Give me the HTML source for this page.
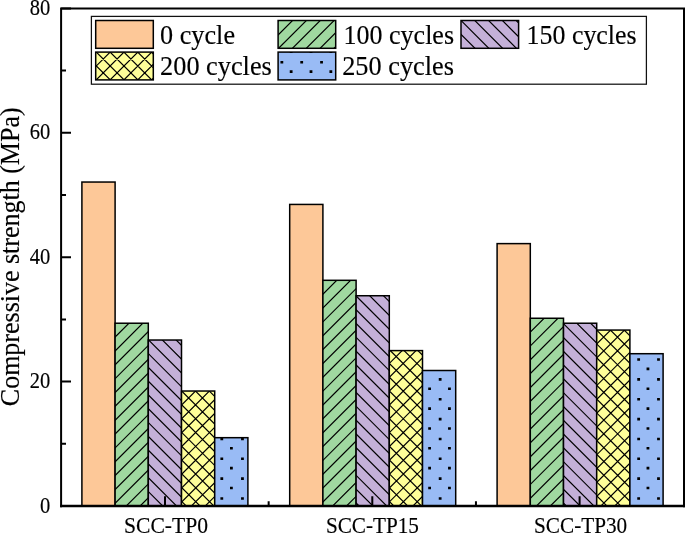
<!DOCTYPE html>
<html lang="en"><head><meta charset="utf-8"><title>Compressive strength chart</title>
<style>
html,body{margin:0;padding:0;background:#fff;}
body{width:685px;height:533px;overflow:hidden;}
svg{display:block;}
svg text{font-family:"Liberation Serif",serif;fill:#000;stroke:#000;stroke-width:0.15px;}
</style></head><body>
<svg width="685" height="533" viewBox="0 0 685 533">
<rect width="100%" height="100%" fill="#fff"/>
<rect x="81.90" y="182.04" width="33.20" height="323.96" fill="#FDC898"/>
<rect x="81.90" y="182.04" width="33.20" height="323.96" fill="none" stroke="#000" stroke-width="1.5"/>
<rect x="115.10" y="323.23" width="33.20" height="182.77" fill="#A0D8A0"/>
<clipPath id="c1"><rect x="115.10" y="323.23" width="33.20" height="182.77"/></clipPath>
<path clip-path="url(#c1)" stroke="#000" stroke-width="1.2" fill="none" d="M113.10 325.23L150.30 288.03M113.10 339.08L150.30 301.88M113.10 352.93L150.30 315.73M113.10 366.78L150.30 329.58M113.10 380.63L150.30 343.43M113.10 394.48L150.30 357.28M113.10 408.33L150.30 371.13M113.10 422.18L150.30 384.98M113.10 436.03L150.30 398.83M113.10 449.88L150.30 412.68M113.10 463.73L150.30 426.53M113.10 477.58L150.30 440.38M113.10 491.43L150.30 454.23M113.10 505.28L150.30 468.08M113.10 519.13L150.30 481.93M113.10 532.98L150.30 495.78M113.10 546.83L150.30 509.63"/>
<rect x="115.10" y="323.23" width="33.20" height="182.77" fill="none" stroke="#000" stroke-width="1.5"/>
<rect x="148.30" y="340.03" width="33.20" height="165.97" fill="#C4B0D8"/>
<clipPath id="c2"><rect x="148.30" y="340.03" width="33.20" height="165.97"/></clipPath>
<path clip-path="url(#c2)" stroke="#000" stroke-width="1.2" fill="none" d="M146.30 296.33L183.50 333.53M146.30 310.13L183.50 347.33M146.30 323.93L183.50 361.13M146.30 337.73L183.50 374.93M146.30 351.53L183.50 388.73M146.30 365.33L183.50 402.53M146.30 379.13L183.50 416.33M146.30 392.93L183.50 430.13M146.30 406.73L183.50 443.93M146.30 420.53L183.50 457.73M146.30 434.33L183.50 471.53M146.30 448.13L183.50 485.33M146.30 461.93L183.50 499.13M146.30 475.73L183.50 512.93M146.30 489.53L183.50 526.73M146.30 503.33L183.50 540.53M146.30 517.13L183.50 554.33"/>
<rect x="148.30" y="340.03" width="33.20" height="165.97" fill="none" stroke="#000" stroke-width="1.5"/>
<rect x="181.50" y="391.03" width="33.20" height="114.97" fill="#FFFF99"/>
<clipPath id="c3"><rect x="181.50" y="391.03" width="33.20" height="114.97"/></clipPath>
<path clip-path="url(#c3)" stroke="#000" stroke-width="1.2" fill="none" d="M179.50 379.38L216.70 342.18M179.50 393.23L216.70 356.03M179.50 407.08L216.70 369.88M179.50 420.93L216.70 383.73M179.50 434.78L216.70 397.58M179.50 448.63L216.70 411.43M179.50 462.48L216.70 425.28M179.50 476.33L216.70 439.13M179.50 490.18L216.70 452.98M179.50 504.03L216.70 466.83M179.50 517.88L216.70 480.68M179.50 531.73L216.70 494.53M179.50 545.58L216.70 508.38M179.50 347.43L216.70 384.63M179.50 361.23L216.70 398.43M179.50 375.03L216.70 412.23M179.50 388.83L216.70 426.03M179.50 402.63L216.70 439.83M179.50 416.43L216.70 453.63M179.50 430.23L216.70 467.43M179.50 444.03L216.70 481.23M179.50 457.83L216.70 495.03M179.50 471.63L216.70 508.83M179.50 485.43L216.70 522.63M179.50 499.23L216.70 536.43M179.50 513.03L216.70 550.23"/>
<rect x="181.50" y="391.03" width="33.20" height="114.97" fill="none" stroke="#000" stroke-width="1.5"/>
<rect x="214.70" y="437.68" width="33.20" height="68.32" fill="#99BBF5"/>
<clipPath id="c4"><rect x="214.70" y="437.68" width="33.20" height="68.32"/></clipPath>
<path clip-path="url(#c4)" fill="#000" stroke="none" d="M180.70 397.95h2.8v2.6h-2.8zM200.55 397.95h2.8v2.6h-2.8zM220.40 397.95h2.8v2.6h-2.8zM241.05 397.95h2.8v2.6h-2.8zM260.10 397.95h2.8v2.6h-2.8zM180.70 417.80h2.8v2.6h-2.8zM200.55 417.80h2.8v2.6h-2.8zM220.40 417.80h2.8v2.6h-2.8zM241.05 417.80h2.8v2.6h-2.8zM260.10 417.80h2.8v2.6h-2.8zM180.70 437.65h2.8v2.6h-2.8zM200.55 437.65h2.8v2.6h-2.8zM220.40 437.65h2.8v2.6h-2.8zM241.05 437.65h2.8v2.6h-2.8zM260.10 437.65h2.8v2.6h-2.8zM180.70 457.50h2.8v2.6h-2.8zM200.55 457.50h2.8v2.6h-2.8zM220.40 457.50h2.8v2.6h-2.8zM241.05 457.50h2.8v2.6h-2.8zM260.10 457.50h2.8v2.6h-2.8zM180.70 477.35h2.8v2.6h-2.8zM200.55 477.35h2.8v2.6h-2.8zM220.40 477.35h2.8v2.6h-2.8zM241.05 477.35h2.8v2.6h-2.8zM260.10 477.35h2.8v2.6h-2.8zM180.70 497.20h2.8v2.6h-2.8zM200.55 497.20h2.8v2.6h-2.8zM220.40 497.20h2.8v2.6h-2.8zM241.05 497.20h2.8v2.6h-2.8zM260.10 497.20h2.8v2.6h-2.8zM180.70 517.05h2.8v2.6h-2.8zM200.55 517.05h2.8v2.6h-2.8zM220.40 517.05h2.8v2.6h-2.8zM241.05 517.05h2.8v2.6h-2.8zM260.10 517.05h2.8v2.6h-2.8zM190.00 407.30h2.8v2.6h-2.8zM209.85 407.30h2.8v2.6h-2.8zM230.00 407.30h2.8v2.6h-2.8zM249.55 407.30h2.8v2.6h-2.8zM190.00 427.15h2.8v2.6h-2.8zM209.85 427.15h2.8v2.6h-2.8zM230.00 427.15h2.8v2.6h-2.8zM249.55 427.15h2.8v2.6h-2.8zM190.00 447.00h2.8v2.6h-2.8zM209.85 447.00h2.8v2.6h-2.8zM230.00 447.00h2.8v2.6h-2.8zM249.55 447.00h2.8v2.6h-2.8zM190.00 466.85h2.8v2.6h-2.8zM209.85 466.85h2.8v2.6h-2.8zM230.00 466.85h2.8v2.6h-2.8zM249.55 466.85h2.8v2.6h-2.8zM190.00 486.70h2.8v2.6h-2.8zM209.85 486.70h2.8v2.6h-2.8zM230.00 486.70h2.8v2.6h-2.8zM249.55 486.70h2.8v2.6h-2.8zM190.00 506.55h2.8v2.6h-2.8zM209.85 506.55h2.8v2.6h-2.8zM230.00 506.55h2.8v2.6h-2.8zM249.55 506.55h2.8v2.6h-2.8z"/>
<rect x="214.70" y="437.68" width="33.20" height="68.32" fill="none" stroke="#000" stroke-width="1.5"/>
<rect x="289.70" y="204.43" width="33.20" height="301.57" fill="#FDC898"/>
<rect x="289.70" y="204.43" width="33.20" height="301.57" fill="none" stroke="#000" stroke-width="1.5"/>
<rect x="322.90" y="280.31" width="33.20" height="225.69" fill="#A0D8A0"/>
<clipPath id="c5"><rect x="322.90" y="280.31" width="33.20" height="225.69"/></clipPath>
<path clip-path="url(#c5)" stroke="#000" stroke-width="1.2" fill="none" d="M320.90 282.31L358.10 245.11M320.90 296.16L358.10 258.96M320.90 310.01L358.10 272.81M320.90 323.86L358.10 286.66M320.90 337.71L358.10 300.51M320.90 351.56L358.10 314.36M320.90 365.41L358.10 328.21M320.90 379.26L358.10 342.06M320.90 393.11L358.10 355.91M320.90 406.96L358.10 369.76M320.90 420.81L358.10 383.61M320.90 434.66L358.10 397.46M320.90 448.51L358.10 411.31M320.90 462.36L358.10 425.16M320.90 476.21L358.10 439.01M320.90 490.06L358.10 452.86M320.90 503.91L358.10 466.71M320.90 517.76L358.10 480.56M320.90 531.61L358.10 494.41M320.90 545.46L358.10 508.26"/>
<rect x="322.90" y="280.31" width="33.20" height="225.69" fill="none" stroke="#000" stroke-width="1.5"/>
<rect x="356.10" y="295.74" width="33.20" height="210.26" fill="#C4B0D8"/>
<clipPath id="c6"><rect x="356.10" y="295.74" width="33.20" height="210.26"/></clipPath>
<path clip-path="url(#c6)" stroke="#000" stroke-width="1.2" fill="none" d="M354.10 252.54L391.30 289.74M354.10 266.34L391.30 303.54M354.10 280.14L391.30 317.34M354.10 293.94L391.30 331.14M354.10 307.74L391.30 344.94M354.10 321.54L391.30 358.74M354.10 335.34L391.30 372.54M354.10 349.14L391.30 386.34M354.10 362.94L391.30 400.14M354.10 376.74L391.30 413.94M354.10 390.54L391.30 427.74M354.10 404.34L391.30 441.54M354.10 418.14L391.30 455.34M354.10 431.94L391.30 469.14M354.10 445.74L391.30 482.94M354.10 459.54L391.30 496.74M354.10 473.34L391.30 510.54M354.10 487.14L391.30 524.34M354.10 500.94L391.30 538.14M354.10 514.74L391.30 551.94"/>
<rect x="356.10" y="295.74" width="33.20" height="210.26" fill="none" stroke="#000" stroke-width="1.5"/>
<rect x="389.30" y="350.60" width="33.20" height="155.40" fill="#FFFF99"/>
<clipPath id="c7"><rect x="389.30" y="350.60" width="33.20" height="155.40"/></clipPath>
<path clip-path="url(#c7)" stroke="#000" stroke-width="1.2" fill="none" d="M387.30 351.60L424.50 314.40M387.30 365.45L424.50 328.25M387.30 379.30L424.50 342.10M387.30 393.15L424.50 355.95M387.30 407.00L424.50 369.80M387.30 420.85L424.50 383.65M387.30 434.70L424.50 397.50M387.30 448.55L424.50 411.35M387.30 462.40L424.50 425.20M387.30 476.25L424.50 439.05M387.30 490.10L424.50 452.90M387.30 503.95L424.50 466.75M387.30 517.80L424.50 480.60M387.30 531.65L424.50 494.45M387.30 545.50L424.50 508.30M387.30 306.20L424.50 343.40M387.30 320.00L424.50 357.20M387.30 333.80L424.50 371.00M387.30 347.60L424.50 384.80M387.30 361.40L424.50 398.60M387.30 375.20L424.50 412.40M387.30 389.00L424.50 426.20M387.30 402.80L424.50 440.00M387.30 416.60L424.50 453.80M387.30 430.40L424.50 467.60M387.30 444.20L424.50 481.40M387.30 458.00L424.50 495.20M387.30 471.80L424.50 509.00M387.30 485.60L424.50 522.80M387.30 499.40L424.50 536.60M387.30 513.20L424.50 550.40"/>
<rect x="389.30" y="350.60" width="33.20" height="155.40" fill="none" stroke="#000" stroke-width="1.5"/>
<rect x="422.50" y="370.50" width="33.20" height="135.50" fill="#99BBF5"/>
<clipPath id="c8"><rect x="422.50" y="370.50" width="33.20" height="135.50"/></clipPath>
<path clip-path="url(#c8)" fill="#000" stroke="none" d="M399.05 338.40h2.8v2.6h-2.8zM418.90 338.40h2.8v2.6h-2.8zM438.75 338.40h2.8v2.6h-2.8zM458.60 338.40h2.8v2.6h-2.8zM399.05 358.25h2.8v2.6h-2.8zM418.90 358.25h2.8v2.6h-2.8zM438.75 358.25h2.8v2.6h-2.8zM458.60 358.25h2.8v2.6h-2.8zM399.05 378.10h2.8v2.6h-2.8zM418.90 378.10h2.8v2.6h-2.8zM438.75 378.10h2.8v2.6h-2.8zM458.60 378.10h2.8v2.6h-2.8zM399.05 397.95h2.8v2.6h-2.8zM418.90 397.95h2.8v2.6h-2.8zM438.75 397.95h2.8v2.6h-2.8zM458.60 397.95h2.8v2.6h-2.8zM399.05 417.80h2.8v2.6h-2.8zM418.90 417.80h2.8v2.6h-2.8zM438.75 417.80h2.8v2.6h-2.8zM458.60 417.80h2.8v2.6h-2.8zM399.05 437.65h2.8v2.6h-2.8zM418.90 437.65h2.8v2.6h-2.8zM438.75 437.65h2.8v2.6h-2.8zM458.60 437.65h2.8v2.6h-2.8zM399.05 457.50h2.8v2.6h-2.8zM418.90 457.50h2.8v2.6h-2.8zM438.75 457.50h2.8v2.6h-2.8zM458.60 457.50h2.8v2.6h-2.8zM399.05 477.35h2.8v2.6h-2.8zM418.90 477.35h2.8v2.6h-2.8zM438.75 477.35h2.8v2.6h-2.8zM458.60 477.35h2.8v2.6h-2.8zM399.05 497.20h2.8v2.6h-2.8zM418.90 497.20h2.8v2.6h-2.8zM438.75 497.20h2.8v2.6h-2.8zM458.60 497.20h2.8v2.6h-2.8zM399.05 517.05h2.8v2.6h-2.8zM418.90 517.05h2.8v2.6h-2.8zM438.75 517.05h2.8v2.6h-2.8zM458.60 517.05h2.8v2.6h-2.8zM388.50 347.75h2.8v2.6h-2.8zM408.35 347.75h2.8v2.6h-2.8zM428.20 347.75h2.8v2.6h-2.8zM448.05 347.75h2.8v2.6h-2.8zM467.90 347.75h2.8v2.6h-2.8zM388.50 367.60h2.8v2.6h-2.8zM408.35 367.60h2.8v2.6h-2.8zM428.20 367.60h2.8v2.6h-2.8zM448.05 367.60h2.8v2.6h-2.8zM467.90 367.60h2.8v2.6h-2.8zM388.50 387.45h2.8v2.6h-2.8zM408.35 387.45h2.8v2.6h-2.8zM428.20 387.45h2.8v2.6h-2.8zM448.05 387.45h2.8v2.6h-2.8zM467.90 387.45h2.8v2.6h-2.8zM388.50 407.30h2.8v2.6h-2.8zM408.35 407.30h2.8v2.6h-2.8zM428.20 407.30h2.8v2.6h-2.8zM448.05 407.30h2.8v2.6h-2.8zM467.90 407.30h2.8v2.6h-2.8zM388.50 427.15h2.8v2.6h-2.8zM408.35 427.15h2.8v2.6h-2.8zM428.20 427.15h2.8v2.6h-2.8zM448.05 427.15h2.8v2.6h-2.8zM467.90 427.15h2.8v2.6h-2.8zM388.50 447.00h2.8v2.6h-2.8zM408.35 447.00h2.8v2.6h-2.8zM428.20 447.00h2.8v2.6h-2.8zM448.05 447.00h2.8v2.6h-2.8zM467.90 447.00h2.8v2.6h-2.8zM388.50 466.85h2.8v2.6h-2.8zM408.35 466.85h2.8v2.6h-2.8zM428.20 466.85h2.8v2.6h-2.8zM448.05 466.85h2.8v2.6h-2.8zM467.90 466.85h2.8v2.6h-2.8zM388.50 486.70h2.8v2.6h-2.8zM408.35 486.70h2.8v2.6h-2.8zM428.20 486.70h2.8v2.6h-2.8zM448.05 486.70h2.8v2.6h-2.8zM467.90 486.70h2.8v2.6h-2.8zM388.50 506.55h2.8v2.6h-2.8zM408.35 506.55h2.8v2.6h-2.8zM428.20 506.55h2.8v2.6h-2.8zM448.05 506.55h2.8v2.6h-2.8zM467.90 506.55h2.8v2.6h-2.8z"/>
<rect x="422.50" y="370.50" width="33.20" height="135.50" fill="none" stroke="#000" stroke-width="1.5"/>
<rect x="497.10" y="243.62" width="33.20" height="262.38" fill="#FDC898"/>
<rect x="497.10" y="243.62" width="33.20" height="262.38" fill="none" stroke="#000" stroke-width="1.5"/>
<rect x="530.30" y="318.26" width="33.20" height="187.74" fill="#A0D8A0"/>
<clipPath id="c9"><rect x="530.30" y="318.26" width="33.20" height="187.74"/></clipPath>
<path clip-path="url(#c9)" stroke="#000" stroke-width="1.2" fill="none" d="M528.30 320.26L565.50 283.06M528.30 334.11L565.50 296.91M528.30 347.96L565.50 310.76M528.30 361.81L565.50 324.61M528.30 375.66L565.50 338.46M528.30 389.51L565.50 352.31M528.30 403.36L565.50 366.16M528.30 417.21L565.50 380.01M528.30 431.06L565.50 393.86M528.30 444.91L565.50 407.71M528.30 458.76L565.50 421.56M528.30 472.61L565.50 435.41M528.30 486.46L565.50 449.26M528.30 500.31L565.50 463.11M528.30 514.16L565.50 476.96M528.30 528.01L565.50 490.81M528.30 541.86L565.50 504.66"/>
<rect x="530.30" y="318.26" width="33.20" height="187.74" fill="none" stroke="#000" stroke-width="1.5"/>
<rect x="563.50" y="323.23" width="33.20" height="182.77" fill="#C4B0D8"/>
<clipPath id="c10"><rect x="563.50" y="323.23" width="33.20" height="182.77"/></clipPath>
<path clip-path="url(#c10)" stroke="#000" stroke-width="1.2" fill="none" d="M561.50 280.33L598.70 317.53M561.50 294.13L598.70 331.33M561.50 307.93L598.70 345.13M561.50 321.73L598.70 358.93M561.50 335.53L598.70 372.73M561.50 349.33L598.70 386.53M561.50 363.13L598.70 400.33M561.50 376.93L598.70 414.13M561.50 390.73L598.70 427.93M561.50 404.53L598.70 441.73M561.50 418.33L598.70 455.53M561.50 432.13L598.70 469.33M561.50 445.93L598.70 483.13M561.50 459.73L598.70 496.93M561.50 473.53L598.70 510.73M561.50 487.33L598.70 524.53M561.50 501.13L598.70 538.33M561.50 514.93L598.70 552.13"/>
<rect x="563.50" y="323.23" width="33.20" height="182.77" fill="none" stroke="#000" stroke-width="1.5"/>
<rect x="596.70" y="330.07" width="33.20" height="175.93" fill="#FFFF99"/>
<clipPath id="c11"><rect x="596.70" y="330.07" width="33.20" height="175.93"/></clipPath>
<path clip-path="url(#c11)" stroke="#000" stroke-width="1.2" fill="none" d="M594.70 318.32L631.90 281.12M594.70 332.17L631.90 294.97M594.70 346.02L631.90 308.82M594.70 359.87L631.90 322.67M594.70 373.72L631.90 336.52M594.70 387.57L631.90 350.37M594.70 401.42L631.90 364.22M594.70 415.27L631.90 378.07M594.70 429.12L631.90 391.92M594.70 442.97L631.90 405.77M594.70 456.82L631.90 419.62M594.70 470.67L631.90 433.47M594.70 484.52L631.90 447.32M594.70 498.37L631.90 461.17M594.70 512.22L631.90 475.02M594.70 526.07L631.90 488.87M594.70 539.92L631.90 502.72M594.70 553.77L631.90 516.57M594.70 286.77L631.90 323.97M594.70 300.57L631.90 337.77M594.70 314.37L631.90 351.57M594.70 328.17L631.90 365.37M594.70 341.97L631.90 379.17M594.70 355.77L631.90 392.97M594.70 369.57L631.90 406.77M594.70 383.37L631.90 420.57M594.70 397.17L631.90 434.37M594.70 410.97L631.90 448.17M594.70 424.77L631.90 461.97M594.70 438.57L631.90 475.77M594.70 452.37L631.90 489.57M594.70 466.17L631.90 503.37M594.70 479.97L631.90 517.17M594.70 493.77L631.90 530.97M594.70 507.57L631.90 544.77"/>
<rect x="596.70" y="330.07" width="33.20" height="175.93" fill="none" stroke="#000" stroke-width="1.5"/>
<rect x="629.90" y="353.71" width="33.20" height="152.29" fill="#99BBF5"/>
<clipPath id="c12"><rect x="629.90" y="353.71" width="33.20" height="152.29"/></clipPath>
<path clip-path="url(#c12)" fill="#000" stroke="none" d="M597.55 318.55h2.8v2.6h-2.8zM617.40 318.55h2.8v2.6h-2.8zM637.25 318.55h2.8v2.6h-2.8zM657.10 318.55h2.8v2.6h-2.8zM676.95 318.55h2.8v2.6h-2.8zM597.55 338.40h2.8v2.6h-2.8zM617.40 338.40h2.8v2.6h-2.8zM637.25 338.40h2.8v2.6h-2.8zM657.10 338.40h2.8v2.6h-2.8zM676.95 338.40h2.8v2.6h-2.8zM597.55 358.25h2.8v2.6h-2.8zM617.40 358.25h2.8v2.6h-2.8zM637.25 358.25h2.8v2.6h-2.8zM657.10 358.25h2.8v2.6h-2.8zM676.95 358.25h2.8v2.6h-2.8zM597.55 378.10h2.8v2.6h-2.8zM617.40 378.10h2.8v2.6h-2.8zM637.25 378.10h2.8v2.6h-2.8zM657.10 378.10h2.8v2.6h-2.8zM676.95 378.10h2.8v2.6h-2.8zM597.55 397.95h2.8v2.6h-2.8zM617.40 397.95h2.8v2.6h-2.8zM637.25 397.95h2.8v2.6h-2.8zM657.10 397.95h2.8v2.6h-2.8zM676.95 397.95h2.8v2.6h-2.8zM597.55 417.80h2.8v2.6h-2.8zM617.40 417.80h2.8v2.6h-2.8zM637.25 417.80h2.8v2.6h-2.8zM657.10 417.80h2.8v2.6h-2.8zM676.95 417.80h2.8v2.6h-2.8zM597.55 437.65h2.8v2.6h-2.8zM617.40 437.65h2.8v2.6h-2.8zM637.25 437.65h2.8v2.6h-2.8zM657.10 437.65h2.8v2.6h-2.8zM676.95 437.65h2.8v2.6h-2.8zM597.55 457.50h2.8v2.6h-2.8zM617.40 457.50h2.8v2.6h-2.8zM637.25 457.50h2.8v2.6h-2.8zM657.10 457.50h2.8v2.6h-2.8zM676.95 457.50h2.8v2.6h-2.8zM597.55 477.35h2.8v2.6h-2.8zM617.40 477.35h2.8v2.6h-2.8zM637.25 477.35h2.8v2.6h-2.8zM657.10 477.35h2.8v2.6h-2.8zM676.95 477.35h2.8v2.6h-2.8zM597.55 497.20h2.8v2.6h-2.8zM617.40 497.20h2.8v2.6h-2.8zM637.25 497.20h2.8v2.6h-2.8zM657.10 497.20h2.8v2.6h-2.8zM676.95 497.20h2.8v2.6h-2.8zM597.55 517.05h2.8v2.6h-2.8zM617.40 517.05h2.8v2.6h-2.8zM637.25 517.05h2.8v2.6h-2.8zM657.10 517.05h2.8v2.6h-2.8zM676.95 517.05h2.8v2.6h-2.8zM606.85 327.90h2.8v2.6h-2.8zM626.70 327.90h2.8v2.6h-2.8zM646.55 327.90h2.8v2.6h-2.8zM666.40 327.90h2.8v2.6h-2.8zM606.85 347.75h2.8v2.6h-2.8zM626.70 347.75h2.8v2.6h-2.8zM646.55 347.75h2.8v2.6h-2.8zM666.40 347.75h2.8v2.6h-2.8zM606.85 367.60h2.8v2.6h-2.8zM626.70 367.60h2.8v2.6h-2.8zM646.55 367.60h2.8v2.6h-2.8zM666.40 367.60h2.8v2.6h-2.8zM606.85 387.45h2.8v2.6h-2.8zM626.70 387.45h2.8v2.6h-2.8zM646.55 387.45h2.8v2.6h-2.8zM666.40 387.45h2.8v2.6h-2.8zM606.85 407.30h2.8v2.6h-2.8zM626.70 407.30h2.8v2.6h-2.8zM646.55 407.30h2.8v2.6h-2.8zM666.40 407.30h2.8v2.6h-2.8zM606.85 427.15h2.8v2.6h-2.8zM626.70 427.15h2.8v2.6h-2.8zM646.55 427.15h2.8v2.6h-2.8zM666.40 427.15h2.8v2.6h-2.8zM606.85 447.00h2.8v2.6h-2.8zM626.70 447.00h2.8v2.6h-2.8zM646.55 447.00h2.8v2.6h-2.8zM666.40 447.00h2.8v2.6h-2.8zM606.85 466.85h2.8v2.6h-2.8zM626.70 466.85h2.8v2.6h-2.8zM646.55 466.85h2.8v2.6h-2.8zM666.40 466.85h2.8v2.6h-2.8zM606.85 486.70h2.8v2.6h-2.8zM626.70 486.70h2.8v2.6h-2.8zM646.55 486.70h2.8v2.6h-2.8zM666.40 486.70h2.8v2.6h-2.8zM606.85 506.55h2.8v2.6h-2.8zM626.70 506.55h2.8v2.6h-2.8zM646.55 506.55h2.8v2.6h-2.8zM666.40 506.55h2.8v2.6h-2.8z"/>
<rect x="629.90" y="353.71" width="33.20" height="152.29" fill="none" stroke="#000" stroke-width="1.5"/>
<path d="M61.1 507.35V8.4H684.0V507.35" fill="none" stroke="#000" stroke-width="2" stroke-linejoin="miter"/>
<path d="M60.1 506.1H685.0" fill="none" stroke="#000" stroke-width="2.5"/>
<path d="M61.1 506.00h9.9 M61.1 443.80h4.9 M61.1 381.60h9.9 M61.1 319.40h4.9 M61.1 257.20h9.9 M61.1 195.00h4.9 M61.1 132.80h9.9 M61.1 70.60h4.9 M61.1 8.40h9.9 M165.00 506.1v-9.9 M372.30 506.1v-9.9 M579.60 506.1v-9.9 M268.65 506.1v-4.9 M475.95 506.1v-4.9" stroke="#000" stroke-width="2" fill="none"/>
<text transform="translate(50.30 512.60) scale(1 1.1)" font-size="20.5" text-anchor="end">0</text>
<text transform="translate(50.30 388.20) scale(1 1.1)" font-size="20.5" text-anchor="end">20</text>
<text transform="translate(50.30 263.80) scale(1 1.1)" font-size="20.5" text-anchor="end">40</text>
<text transform="translate(50.30 139.40) scale(1 1.1)" font-size="20.5" text-anchor="end">60</text>
<text transform="translate(50.30 15.00) scale(1 1.1)" font-size="20.5" text-anchor="end">80</text>
<text transform="translate(166.00 532.60) scale(1 1.0439814814814814)" font-size="21.6" text-anchor="middle">SCC-TP0</text>
<text transform="translate(372.40 532.60) scale(1 1.063679245283019)" font-size="21.2" text-anchor="middle">SCC-TP15</text>
<text transform="translate(580.60 532.60) scale(1 1.063679245283019)" font-size="21.2" text-anchor="middle">SCC-TP30</text>
<text transform="translate(18.80 256.80) rotate(-90) scale(1 1.05)" font-size="26" text-anchor="middle">Compressive strength (MPa)</text>
<rect x="91.4" y="16.4" width="555.0" height="67.8" fill="#fff" stroke="#111" stroke-width="1.25"/>
<rect x="95.7" y="20.5" width="57.6" height="27.8" fill="#FDC898"/>
<rect x="95.7" y="20.5" width="57.6" height="27.8" fill="none" stroke="#000" stroke-width="1.5"/>
<text transform="translate(160.10 43.60) scale(1 1.0767175572519085)" font-size="26.2" text-anchor="start">0 cycle</text>
<rect x="278.1" y="20.5" width="57.6" height="27.8" fill="#A0D8A0"/>
<clipPath id="c13"><rect x="278.10" y="20.50" width="57.60" height="27.80"/></clipPath>
<path clip-path="url(#c13)" stroke="#000" stroke-width="1.2" fill="none" d="M276.10 9.25L337.70 -52.35M276.10 23.10L337.70 -38.50M276.10 36.95L337.70 -24.65M276.10 50.80L337.70 -10.80M276.10 64.65L337.70 3.05M276.10 78.50L337.70 16.90M276.10 92.35L337.70 30.75M276.10 106.20L337.70 44.60M276.10 120.05L337.70 58.45"/>
<rect x="278.1" y="20.5" width="57.6" height="27.8" fill="none" stroke="#000" stroke-width="1.5"/>
<text transform="translate(343.60 43.60) scale(1 1.085)" font-size="26.0" text-anchor="start">100 cycles</text>
<rect x="461" y="20.5" width="57.6" height="27.8" fill="#C4B0D8"/>
<clipPath id="c14"><rect x="461.00" y="20.50" width="57.60" height="27.80"/></clipPath>
<path clip-path="url(#c14)" stroke="#000" stroke-width="1.2" fill="none" d="M459.00 -50.50L520.60 11.10M459.00 -36.70L520.60 24.90M459.00 -22.90L520.60 38.70M459.00 -9.10L520.60 52.50M459.00 4.70L520.60 66.30M459.00 18.50L520.60 80.10M459.00 32.30L520.60 93.90M459.00 46.10L520.60 107.70M459.00 59.90L520.60 121.50"/>
<rect x="461" y="20.5" width="57.6" height="27.8" fill="none" stroke="#000" stroke-width="1.5"/>
<text transform="translate(526.60 43.60) scale(1 1.0891891891891894)" font-size="25.9" text-anchor="start">150 cycles</text>
<rect x="95.7" y="52.1" width="57.6" height="27.8" fill="#FFFF99"/>
<clipPath id="c15"><rect x="95.70" y="52.10" width="57.60" height="27.80"/></clipPath>
<path clip-path="url(#c15)" stroke="#000" stroke-width="1.2" fill="none" d="M93.70 40.85L155.30 -20.75M93.70 54.70L155.30 -6.90M93.70 68.55L155.30 6.95M93.70 82.40L155.30 20.80M93.70 96.25L155.30 34.65M93.70 110.10L155.30 48.50M93.70 123.95L155.30 62.35M93.70 137.80L155.30 76.20M93.70 151.65L155.30 90.05M93.70 -19.50L155.30 42.10M93.70 -5.70L155.30 55.90M93.70 8.10L155.30 69.70M93.70 21.90L155.30 83.50M93.70 35.70L155.30 97.30M93.70 49.50L155.30 111.10M93.70 63.30L155.30 124.90M93.70 77.10L155.30 138.70M93.70 90.90L155.30 152.50"/>
<rect x="95.7" y="52.1" width="57.6" height="27.8" fill="none" stroke="#000" stroke-width="1.5"/>
<text transform="translate(160.10 75.20) scale(1 1.0726235741444867)" font-size="26.3" text-anchor="start">200 cycles</text>
<rect x="278.1" y="52.1" width="57.6" height="27.8" fill="#99BBF5"/>
<clipPath id="c16"><rect x="278.10" y="52.10" width="57.60" height="27.80"/></clipPath>
<path clip-path="url(#c16)" fill="#000" stroke="none" d="M241.55 21.30h2.8v2.6h-2.8zM260.60 21.30h2.8v2.6h-2.8zM280.45 21.30h2.8v2.6h-2.8zM300.30 21.30h2.8v2.6h-2.8zM320.15 21.30h2.8v2.6h-2.8zM340.00 21.30h2.8v2.6h-2.8zM241.55 41.15h2.8v2.6h-2.8zM260.60 41.15h2.8v2.6h-2.8zM280.45 41.15h2.8v2.6h-2.8zM300.30 41.15h2.8v2.6h-2.8zM320.15 41.15h2.8v2.6h-2.8zM340.00 41.15h2.8v2.6h-2.8zM241.55 61.00h2.8v2.6h-2.8zM260.60 61.00h2.8v2.6h-2.8zM280.45 61.00h2.8v2.6h-2.8zM300.30 61.00h2.8v2.6h-2.8zM320.15 61.00h2.8v2.6h-2.8zM340.00 61.00h2.8v2.6h-2.8zM241.55 80.85h2.8v2.6h-2.8zM260.60 80.85h2.8v2.6h-2.8zM280.45 80.85h2.8v2.6h-2.8zM300.30 80.85h2.8v2.6h-2.8zM320.15 80.85h2.8v2.6h-2.8zM340.00 80.85h2.8v2.6h-2.8zM250.05 30.65h2.8v2.6h-2.8zM269.90 30.65h2.8v2.6h-2.8zM289.75 30.65h2.8v2.6h-2.8zM309.60 30.65h2.8v2.6h-2.8zM329.45 30.65h2.8v2.6h-2.8zM349.30 30.65h2.8v2.6h-2.8zM250.05 50.50h2.8v2.6h-2.8zM269.90 50.50h2.8v2.6h-2.8zM289.75 50.50h2.8v2.6h-2.8zM309.60 50.50h2.8v2.6h-2.8zM329.45 50.50h2.8v2.6h-2.8zM349.30 50.50h2.8v2.6h-2.8zM250.05 70.35h2.8v2.6h-2.8zM269.90 70.35h2.8v2.6h-2.8zM289.75 70.35h2.8v2.6h-2.8zM309.60 70.35h2.8v2.6h-2.8zM329.45 70.35h2.8v2.6h-2.8zM349.30 70.35h2.8v2.6h-2.8zM250.05 90.20h2.8v2.6h-2.8zM269.90 90.20h2.8v2.6h-2.8zM289.75 90.20h2.8v2.6h-2.8zM309.60 90.20h2.8v2.6h-2.8zM329.45 90.20h2.8v2.6h-2.8zM349.30 90.20h2.8v2.6h-2.8z"/>
<rect x="278.1" y="52.1" width="57.6" height="27.8" fill="none" stroke="#000" stroke-width="1.5"/>
<text transform="translate(342.20 75.20) scale(1 1.0726235741444867)" font-size="26.3" text-anchor="start">250 cycles</text>
</svg>
</body></html>
